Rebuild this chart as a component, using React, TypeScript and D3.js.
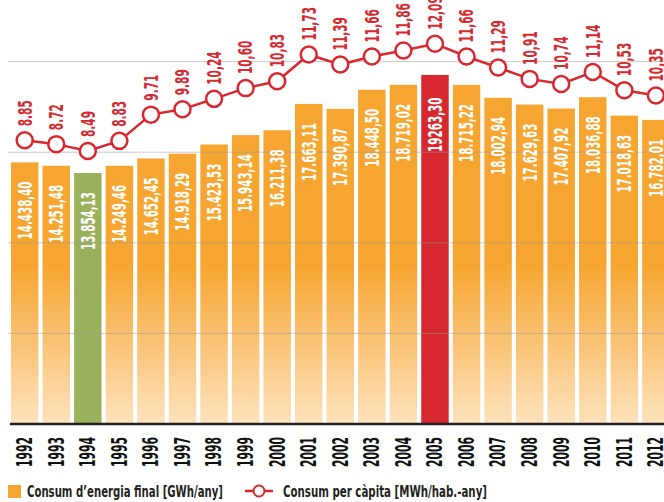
import React from 'react';
import * as d3 from 'd3';

const years = ['1992','1993','1994','1995','1996','1997','1998','1999','2000','2001','2002','2003','2004','2005','2006','2007','2008','2009','2010','2011','2012'];
const energy = [14438.40, 14251.48, 13854.13, 14249.46, 14652.45, 14918.29, 15423.53, 15943.14, 16211.38, 17663.11, 17390.87, 18448.50, 18719.02, 19263.30, 18715.22, 18002.94, 17629.63, 17407.92, 18036.88, 17018.63, 16782.01];
const energyLabels = ['14.438,40','14.251,48','13.854,13','14.249,46','14.652,45','14.918,29','15.423,53','15.943,14','16.211,38','17.663,11','17.390,87','18.448,50','18.719,02','19263,30','18.715,22','18.002,94','17.629,63','17.407,92','18.036,88','17.018,63','16.782,01'];
const perCapita = [8.85, 8.72, 8.49, 8.83, 9.71, 9.89, 10.24, 10.60, 10.83, 11.73, 11.39, 11.66, 11.86, 12.09, 11.66, 11.29, 10.91, 10.74, 11.14, 10.53, 10.35];
const perCapitaLabels = ['8.85','8.72','8.49','8.83','9.71','9.89','10,24','10,60','10,83','11,73','11,39','11,66','11,86','12,09','11,66','11,29','10,91','10,74','11,14','10,53','10,35'];
const gridTicks = [5000, 10000, 15000, 20000];
const legendLabels = ['Consum d\u2019energia final [GWh/any]', 'Consum per c\u00e0pita [MWh/hab.-any]'];

const W = 664, H = 502;
const FONT = "'Liberation Sans Narrow', 'DejaVu Sans Condensed', 'Roboto Condensed', 'Liberation Sans', sans-serif";
const RED = '#d8282f';
const GREEN = '#9ab15b';
const specialColor: Record<string, string> = { '1994': GREEN, '2005': RED };

function estLen(s: string, d: number, p: number) {
  let n = 0;
  for (const ch of s) n += /[0-9]/.test(ch) ? d : p;
  return n;
}

export default function App() {
  const x = d3.scaleBand<string>().domain(years).range([8.92, 8.92 + 21 * 31.56]).paddingInner(0.13).paddingOuter(0.065);
  const y = d3.scaleLinear().domain([0, 20000]).range([424, 61.6]);
  const yl = d3.scaleLinear().domain([8, 12]).range([165.6, 46.4]);
  const bw = x.bandwidth();
  const cx = (yr: string) => (x(yr) as number) + bw / 2;

  const line = d3.line<number>().x((_, i) => cx(years[i])).y(v => yl(v));

  return (
    <svg width={W} height={H} style={{ position: 'absolute', left: 0, top: 0, background: '#fff' }} fontFamily={FONT}>
      <defs>
        <linearGradient id="barGrad" gradientUnits="userSpaceOnUse" x1="0" y1="265" x2="0" y2="424">
          <stop offset="0" stopColor="#f6a530" />
          <stop offset="1" stopColor="#fde2bd" />
        </linearGradient>
      </defs>
      {/* bars */}
      {years.map((yr, i) => (
        <rect key={yr} x={x(yr)} y={y(energy[i])} width={bw} height={424 - y(energy[i])}
          fill={specialColor[yr] ?? 'url(#barGrad)'} />
      ))}
      {/* gridlines */}
      {gridTicks.map(t => (
        <line key={t} x1={8} x2={W} y1={y(t)} y2={y(t)} stroke="#9a9a9a" strokeOpacity={0.5} strokeWidth={1} />
      ))}
      {/* bar labels */}
      {years.map((yr, i) => (
        <text key={yr} transform={`translate(${cx(yr)},${y(energy[i]) + 77}) rotate(-90)`} dy="0.36em"
          fill="#fff" fontSize={19} fontWeight="bold" textLength={estLen(energyLabels[i], 7.3, 3.4)} lengthAdjust="spacingAndGlyphs">
          {energyLabels[i]}
        </text>
      ))}
      {/* axis */}
      <line x1={10} x2={W} y1={424} y2={424} stroke="#231f20" strokeWidth={2.5} />
      {years.map(yr => (
        <text key={yr} transform={`translate(${cx(yr)},437) rotate(-90)`} dy="0.36em" textAnchor="end"
          fill="#111" fontSize={20.5} fontWeight="bold" textLength={30} lengthAdjust="spacingAndGlyphs">{yr}</text>
      ))}
      {/* line */}
      <path d={line(perCapita) as string} fill="none" stroke={RED} strokeWidth={2.5} />
      {perCapita.map((v, i) => (
        <circle key={i} cx={cx(years[i])} cy={yl(v)} r={8} fill="#fff" stroke={RED} strokeWidth={2.5} />
      ))}
      {perCapita.map((v, i) => (
        <text key={i} transform={`translate(${cx(years[i])},${yl(v) - 14}) rotate(-90)`} dy="0.36em"
          fill="#d42b30" fontSize={19} fontWeight="bold" textLength={estLen(perCapitaLabels[i], 7.5, 3.5)} lengthAdjust="spacingAndGlyphs">
          {perCapitaLabels[i]}
        </text>
      ))}
      {/* legend */}
      <rect x={8} y={485} width={13} height={13} fill="#f6a530" />
      <text x={27} y={497} fontSize={16} fontWeight="bold" fill="#231f20" textLength={196} lengthAdjust="spacingAndGlyphs">{legendLabels[0]}</text>
      <line x1={245} x2={273} y1={491} y2={491} stroke={RED} strokeWidth={2.5} />
      <circle cx={259} cy={491} r={5.5} fill="#fff" stroke={RED} strokeWidth={2} />
      <text x={283} y={497} fontSize={16} fontWeight="bold" fill="#231f20" textLength={204} lengthAdjust="spacingAndGlyphs">{legendLabels[1]}</text>
    </svg>
  );
}
